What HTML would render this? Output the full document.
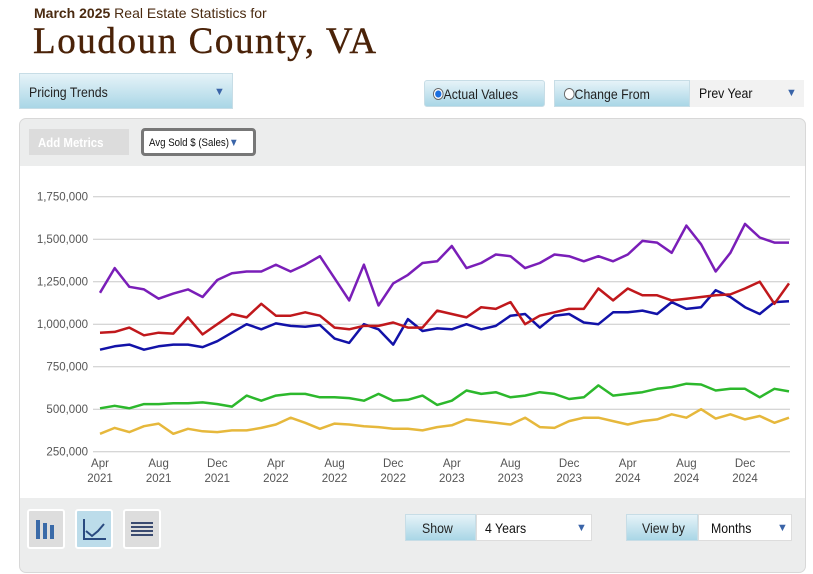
<!DOCTYPE html>
<html><head><meta charset="utf-8"><style>
*{box-sizing:border-box}
body{margin:0;width:813px;height:574px;background:#fff;font-family:"Liberation Sans",sans-serif;position:relative;overflow:hidden}
.abs{position:absolute}
.blue{background:linear-gradient(#e6f3f8,#a9d6e6);border:1px solid #c7dde6}
.tri{color:#3a64a8;font-size:11px}
.cond{display:inline-block;transform:scaleX(0.88);transform-origin:left center;white-space:nowrap}
</style></head><body>
<div class="abs" style="left:34px;top:5px;font-size:14px;color:#4a2a10"><b>March 2025</b> Real Estate Statistics for</div>
<div class="abs" style="left:33px;top:20px;font-family:'Liberation Serif',serif;font-size:37px;letter-spacing:1.6px;color:#4a2208;-webkit-text-stroke:0.4px #4a2208">Loudoun County, VA</div>

<div class="abs blue" style="left:19px;top:73px;width:214px;height:36px;font-size:14px;color:#222;padding:10px 0 0 9px"><span class="cond">Pricing Trends</span><span class="abs tri" style="left:194px;top:12px">▼</span></div>

<div class="abs blue" style="left:424px;top:80px;width:121px;height:27px;border-radius:3px;font-size:14px;color:#222;padding:5px 0 0 8px"><span class="cond"><span style="display:inline-block;width:12px;height:12px;border-radius:50%;border:1px solid #666;background:radial-gradient(#1a6fe0 45%,#fff 55%);vertical-align:-1px"></span>Actual Values</span></div>
<div class="abs blue" style="left:554px;top:80px;width:136px;height:27px;font-size:14px;color:#222;padding:5px 0 0 9px"><span class="cond"><span style="display:inline-block;width:12px;height:12px;border-radius:50%;border:1px solid #666;background:#fff;vertical-align:-1px"></span>Change From</span></div>
<div class="abs" style="left:690px;top:80px;width:114px;height:27px;background:#f2f2f2;font-size:14px;color:#111;padding:5px 0 0 9px"><span class="cond">Prev Year</span><span class="abs tri" style="left:96px;top:7px">▼</span></div>

<div class="abs" style="left:19px;top:118px;width:787px;height:455px;background:#eceded;border:1px solid #d8d8d8;border-radius:7px"></div>
<div class="abs" style="left:29px;top:129px;width:100px;height:26px;background:#dcdcdc;color:#fff;font-weight:bold;font-size:13px;padding:6px 0 0 9px"><span class="cond">Add Metrics</span></div>
<div class="abs" style="left:141px;top:128px;width:115px;height:28px;background:#fff;border:3px solid #777;border-radius:4px;font-size:11px;color:#111;padding:6px 0 0 5px"><span class="cond">Avg Sold $ (Sales)<span style="color:#3a64a8">▼</span></span></div>
<div class="abs" style="left:20px;top:166px;width:785px;height:332px;background:#fff"></div>

<svg class="abs" style="left:0;top:0" width="813" height="574" id="chart"></svg>

<div class="abs" style="left:27px;top:509px;width:38px;height:40px;background:#ddd;border:2px solid #fff;border-radius:3px">
<svg width="34" height="36"><rect x="7" y="9" width="4" height="19" fill="#3a6aa8"/><rect x="14" y="12" width="4" height="16" fill="#3a6aa8"/><rect x="21" y="14" width="4" height="14" fill="#3a6aa8"/></svg></div>
<div class="abs" style="left:75px;top:509px;width:38px;height:40px;background:#bcdcea;border:2px solid #fff;border-radius:3px">
<svg width="34" height="36"><path d="M7 8V28H29" stroke="#2a4a80" stroke-width="2" fill="none"/><path d="M9 20L15 25L21 20L27 13" stroke="#2a4a80" stroke-width="2" fill="none"/></svg></div>
<div class="abs" style="left:123px;top:509px;width:38px;height:40px;background:#ddd;border:2px solid #fff;border-radius:3px">
<svg width="34" height="36"><g stroke="#3a4a70" stroke-width="2"><path d="M6 12H28M6 16H28M6 20H28M6 24H28"/></g></svg></div>

<div class="abs blue" style="left:405px;top:514px;width:71px;height:27px;font-size:14px;color:#222;padding:5px 0 0 16px"><span class="cond">Show</span></div>
<div class="abs" style="left:476px;top:514px;width:116px;height:27px;background:#fff;border:1px solid #ddd;font-size:14px;color:#111;padding:5px 0 0 8px"><span class="cond">4 Years</span><span class="abs tri" style="left:99px;top:7px">▼</span></div>
<div class="abs blue" style="left:626px;top:514px;width:72px;height:27px;font-size:14px;color:#222;padding:5px 0 0 15px"><span class="cond">View by</span></div>
<div class="abs" style="left:698px;top:514px;width:94px;height:27px;background:#fff;border:1px solid #ddd;font-size:14px;color:#111;padding:5px 0 0 12px"><span class="cond">Months</span><span class="abs tri" style="left:78px;top:7px">▼</span></div>

<script>
const yTicks=[250000,500000,750000,1000000,1250000,1500000,1750000];
const xTickLabels=[["Apr","2021"],["Aug","2021"],["Dec","2021"],["Apr","2022"],["Aug","2022"],["Dec","2022"],["Apr","2023"],["Aug","2023"],["Dec","2023"],["Apr","2024"],["Aug","2024"],["Dec","2024"]];
const purple=[1185,1330,1220,1205,1150,1180,1205,1160,1260,1300,1310,1310,1350,1310,1350,1400,1270,1140,1350,1110,1240,1290,1360,1370,1460,1330,1360,1410,1400,1330,1360,1410,1400,1370,1400,1370,1410,1490,1480,1420,1580,1470,1310,1420,1590,1510,1480,1480];
const red=[950,955,980,935,950,945,1040,940,1000,1060,1040,1120,1050,1050,1070,1050,980,970,990,990,1010,980,980,1080,1060,1040,1100,1090,1130,1000,1050,1070,1090,1090,1210,1140,1210,1170,1170,1140,1150,1160,1170,1175,1210,1250,1120,1240];
const blue=[850,870,880,850,870,880,880,865,900,950,1000,970,1005,990,985,995,915,890,1000,970,880,1030,960,975,970,1000,970,990,1050,1060,980,1050,1060,1010,1000,1070,1070,1080,1060,1130,1090,1100,1200,1160,1100,1060,1130,1135];
const green=[505,520,505,530,530,535,535,540,530,515,580,550,580,590,590,570,570,565,550,590,550,555,580,525,550,610,590,600,570,580,600,590,560,570,640,580,590,600,620,630,650,645,610,620,620,570,620,605];
const yellow=[355,390,365,400,415,355,385,370,365,375,375,390,410,450,420,385,415,410,400,395,385,385,375,395,405,440,430,420,410,450,395,390,430,450,450,430,410,430,440,470,450,500,445,470,440,460,420,450];
const svg=document.getElementById('chart');
const NS='http://www.w3.org/2000/svg';
const x=i=>100+i*14.66;
const y=v=>451.7-(v-250000)/250000*42.5;
function mk(t,a){const e=document.createElementNS(NS,t);for(const k in a)e.setAttribute(k,a[k]);svg.appendChild(e);return e;}
yTicks.forEach(t=>{
  const l=mk('line',{x1:93,x2:790,y1:y(t),y2:y(t),stroke:'#c8c8c8','stroke-width':1});
  
  
  const tx=mk('text',{x:88,y:y(t)+4,'text-anchor':'end','font-size':11.5,fill:'#555','font-family':'Liberation Sans, sans-serif'});
  tx.textContent=t.toLocaleString('en-US');
  
  
});
xTickLabels.forEach((p,k)=>{
  const tx=mk('text',{x:x(k*4),y:467,'text-anchor':'middle','font-size':11.5,fill:'#555','font-family':'Liberation Sans, sans-serif'});
  tx.innerHTML='<tspan x="'+x(k*4)+'">'+p[0]+'</tspan><tspan x="'+x(k*4)+'" dy="15">'+p[1]+'</tspan>';
  
  
});
[[yellow,'#e6b83c','series-avg-sold-yellow'],[green,'#2cb82c','series-avg-sold-green'],[blue,'#1212a8','series-avg-sold-blue'],[red,'#c0181c','series-avg-sold-red'],[purple,'#7a1eb8','series-avg-sold-purple']].forEach(([d,c,n])=>{
  const pts=d.map((v,i)=>x(i).toFixed(1)+','+y(v*1000).toFixed(1)).join(' ');
  const pl=mk('polyline',{points:pts,fill:'none',stroke:c,'stroke-width':2.5,'stroke-linejoin':'round'});
  
  
});
</script>
</body></html>
